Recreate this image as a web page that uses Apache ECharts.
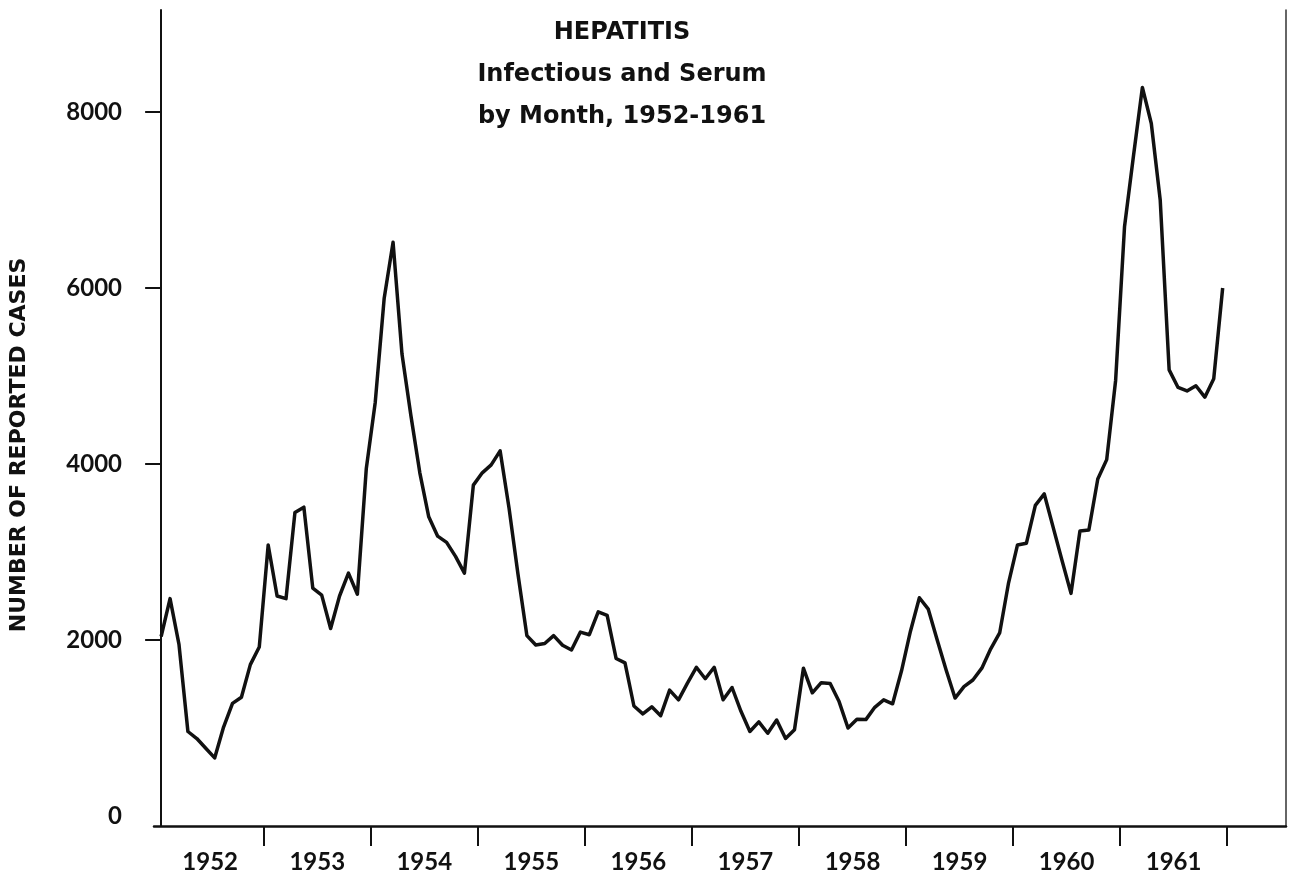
<!DOCTYPE html>
<html><head><meta charset="utf-8">
<script src="https://cdn.jsdelivr.net/npm/echarts@6/dist/echarts.min.js"></script>
<style>html,body{margin:0;padding:0;background:#fff}#c{width:1292px;height:878px}</style>
</head><body><div id="c"></div>
<script>
// Tick labels / categories
const years = ['1952','1953','1954','1955','1956','1957','1958','1959','1960','1961'];
const yTickValues = [0, 2000, 4000, 6000, 8000];

// Monthly reported cases, Jan..Dec
const cases1952 = [2040, 2470, 1950, 960, 880, 770, 660, 1010, 1280, 1350, 1720, 1920];
const cases1953 = [3080, 2500, 2470, 3450, 3510, 2590, 2510, 2130, 2500, 2760, 2520, 3950];
const cases1954 = [4700, 5880, 6520, 5250, 4550, 3900, 3400, 3180, 3110, 2950, 2760, 3760];
const cases1955 = [3900, 3990, 4150, 3500, 2750, 2050, 1943, 1960, 2050, 1940, 1886, 2090];
const cases1956 = [2060, 2320, 2280, 1790, 1740, 1250, 1160, 1240, 1140, 1430, 1320, 1510];
const cases1957 = [1690, 1560, 1690, 1320, 1460, 1190, 960, 1070, 940, 1090, 880, 980];
const cases1958 = [1680, 1400, 1515, 1505, 1300, 1000, 1100, 1095, 1235, 1320, 1275, 1650];
const cases1959 = [2100, 2480, 2350, 2000, 1660, 1340, 1470, 1545, 1680, 1900, 2080, 2650];
const cases1960 = [3080, 3100, 3530, 3660, 3280, 2900, 2530, 3240, 3250, 3830, 4050, 4950];
const cases1961 = [6700, 7500, 8280, 7870, 7000, 5070, 4870, 4830, 4890, 4760, 4970, 6000];

const allYears = [cases1952, cases1953, cases1954, cases1955, cases1956,
                  cases1957, cases1958, cases1959, cases1960, cases1961];
const seriesData = [];
allYears.forEach((arr, yi) => arr.forEach((v, m) => seriesData.push([yi * 12 + m, v])));

const yearCenters = years.map((y, i) => i * 12 + 5.5);
const yearBounds = years.map((y, i) => i * 12 + 11.5);

const FONT = 'Lato, "Open Sans", sans-serif';
const chart = echarts.init(document.getElementById('c'), null, {renderer: 'canvas'});
chart.setOption({
  animation: false,
  backgroundColor: '#ffffff',
  title: {
    text: 'HEPATITIS\nInfectious and Serum\nby Month, 1952-1961',
    left: 617, top: 7, textAlign: 'center',
    textStyle: {
      fontFamily: '"DejaVu Sans", sans-serif', fontWeight: 'bold', fontSize: 24,
      color: '#111', lineHeight: 42, align: 'center'
    }
  },
  grid: {left: 150, right: 6, top: 10, bottom: 52, containLabel: false},
  xAxis: {
    type: 'value', min: -0.8, max: 126.1,
    splitLine: {show: false},
    axisLine: {show: true, onZero: false, lineStyle: {color: '#111', width: 2.5}},
    axisTick: {show: true, customValues: yearBounds, length: 20, inside: false,
               lineStyle: {color: '#111', width: 2}},
    axisLabel: {customValues: yearCenters, margin: 24,
                formatter: v => years[Math.round((v - 5.5) / 12)],
                fontFamily: FONT, fontWeight: 'bold', fontSize: 24, color: '#111'}
  },
  yAxis: [{
    type: 'value', position: 'left', min: -114, max: 9160,
    splitLine: {show: false},
    axisLine: {show: true, lineStyle: {color: '#111', width: 2}},
    axisTick: {show: true, customValues: [2000, 4000, 6000, 8000], length: 16, inside: false,
               lineStyle: {color: '#111', width: 2}},
    axisLabel: {customValues: yTickValues, margin: 32, formatter: v => String(v),
                fontFamily: FONT, fontWeight: 'bold', fontSize: 24, color: '#111'},
    name: 'NUMBER OF REPORTED CASES',
    nameLocation: 'middle', nameRotate: 90, nameGap: 124,
    nameTextStyle: {fontFamily: '"DejaVu Sans", sans-serif', fontWeight: 'bold',
                    fontSize: 22, color: '#111', padding: [0, 54, 0, 0]}
  }, {
    type: 'value', position: 'right', min: -114, max: 9160,
    splitLine: {show: false},
    axisLine: {show: true, lineStyle: {color: '#333', width: 1.5}},
    axisTick: {show: false}, axisLabel: {show: false}
  }],
  series: [{
    type: 'line', data: seriesData, showSymbol: false, smooth: false,
    lineStyle: {color: '#111', width: 3.5, join: 'round'},
    z: 5
  }]
});
</script></body></html>
